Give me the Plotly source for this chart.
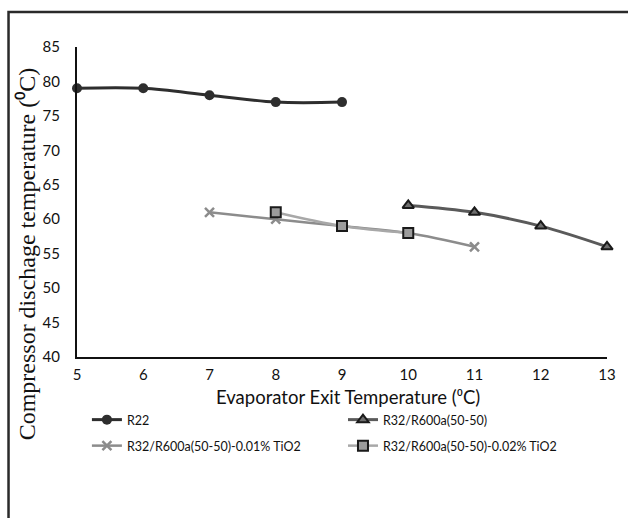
import plotly.graph_objects as go

# Data
r22_x = [5, 6, 7, 8, 9]
r22_y = [79, 79, 78, 77, 77]
mix_x = [10, 11, 12, 13]
mix_y = [62, 61, 59, 56]
tio1_x = [7, 8, 9, 10, 11]
tio1_y = [61, 60, 59, 58, 56]
tio2_x = [8, 9, 10]
tio2_y = [61, 59, 58]

names = ["R22", "R32/R600a(50-50)", "R32/R600a(50-50)-0.01% TiO2", "R32/R600a(50-50)-0.02% TiO2"]
x_title = "Evaporator Exit Temperature (⁰C)"
y_title = "Compressor dischage temperature (⁰C)"

FONT = "Lato, Liberation Sans, sans-serif"

fig = go.Figure()
fig.add_trace(go.Scatter(x=r22_x, y=r22_y, name=names[0], mode="lines+markers",
                         line=dict(color="#2e2e2e", width=3, shape="spline"),
                         marker=dict(symbol="circle", size=10, color="#2e2e2e"),
                         cliponaxis=False, legend="legend"))
fig.add_trace(go.Scatter(x=mix_x, y=mix_y, name=names[1], mode="lines+markers",
                         line=dict(color="#5a5a5a", width=3, shape="spline"),
                         marker=dict(symbol="triangle-up", size=10, color="#6e6e6e",
                                     line=dict(color="#1a1a1a", width=2)),
                         cliponaxis=False, legend="legend2"))
fig.add_trace(go.Scatter(x=tio1_x, y=tio1_y, name=names[2], mode="lines+markers",
                         line=dict(color="#8c8c8c", width=2.5, shape="spline"),
                         marker=dict(symbol="x-thin", size=9, color="#8c8c8c",
                                     line=dict(color="#8c8c8c", width=2.5)),
                         cliponaxis=False, legend="legend3"))
fig.add_trace(go.Scatter(x=tio2_x, y=tio2_y, name=names[3], mode="lines+markers",
                         line=dict(color="#a8a8a8", width=2.5, shape="spline"),
                         marker=dict(symbol="square", size=10, color="#9c9c9c",
                                     line=dict(color="#1a1a1a", width=2)),
                         cliponaxis=False, legend="legend4"))

leg_common = dict(orientation="h", xanchor="left", yanchor="middle",
                  font=dict(family=FONT, size=12.5, color="#111"),
                  bgcolor="rgba(0,0,0,0)")
col1 = 0.0187
col2 = 0.0187 + 258 / 534
row1 = (357 - 420) / 310
row2 = (357 - 446) / 310

fig.update_layout(
    width=628, height=518,
    margin=dict(l=77, r=17, t=47, b=161),
    paper_bgcolor="white", plot_bgcolor="white",
    font=dict(family=FONT, size=15, color="#111"),
    showlegend=True,
    legend=dict(x=col1, y=row1, **leg_common),
    legend2=dict(x=col2, y=row1, **leg_common),
    legend3=dict(x=col1, y=row2, **leg_common),
    legend4=dict(x=col2, y=row2, **leg_common),
    xaxis=dict(range=[5, 13], dtick=1, tick0=5, showgrid=False, zeroline=False,
               showline=True, linecolor="#111", linewidth=2, ticks="",
               ticklabelstandoff=3,
               tickfont=dict(family=FONT, size=15, color="#111")),
    yaxis=dict(range=[40, 85], dtick=5, tick0=40, showgrid=False, zeroline=False,
               showline=True, linecolor="#111", linewidth=2, ticks="",
               ticklabelstandoff=12,
               tickfont=dict(family=FONT, size=15, color="#111")),
    annotations=[
        dict(text=y_title, xref="paper", yref="paper",
             x=(27 - 77) / 534, y=(357 - 254) / 310, xanchor="center", yanchor="middle",
             textangle=-90, showarrow=False,
             font=dict(family="Liberation Serif, Times New Roman, serif", size=24, color="#111")),
        dict(text=x_title, xref="paper", yref="paper",
             x=(350 - 77) / 534, y=(357 - 397) / 310, xanchor="center", yanchor="middle",
             showarrow=False,
             font=dict(family=FONT, size=18.5, color="#111")),
    ],
    shapes=[dict(type="rect", xref="paper", yref="paper", x0=-0.1292, x1=1.3, y0=-1.0, y1=1.1129,
                 line=dict(color="#2a2a2a", width=2.5), layer="below")],
)

fig.write_html("out.html")
